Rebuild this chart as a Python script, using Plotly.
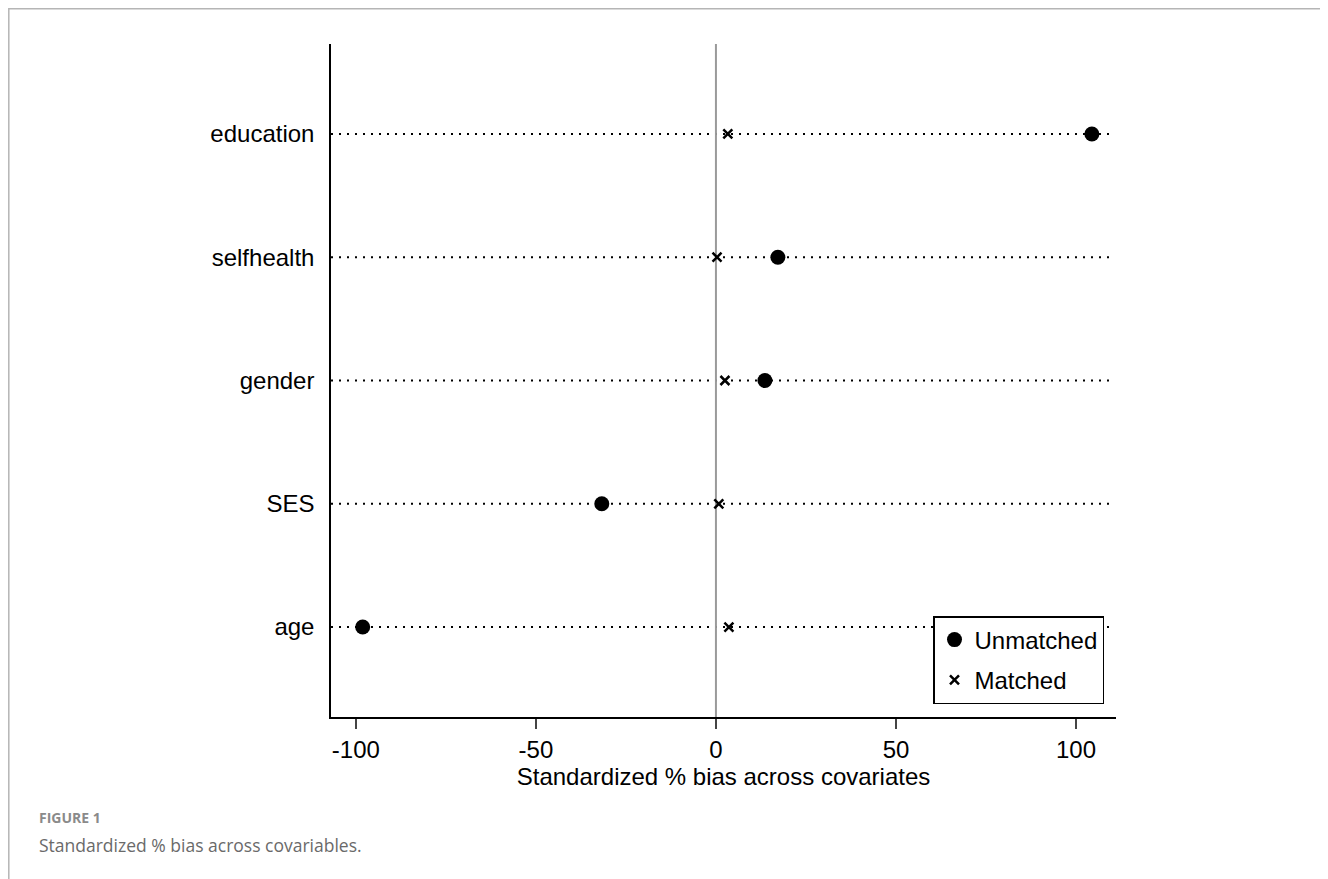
import plotly.graph_objects as go

categories = ["age", "SES", "gender", "selfhealth", "education"]
unmatched = [-98.1, -31.7, 13.6, 17.2, 104.4]
matched = [3.6, 0.8, 2.5, 0.3, 3.3]
x_ticks = [-100, -50, 0, 50, 100]

# page has an 8px body margin: size the figure to fit the window
OFF = 8
W, H = 1328 - OFF, 879 - OFF
L, R, T, B = 331 - OFF, 212, 44 - OFF, 162
pw, ph = W - L - R, H - T - B

def px(x):
    return (x - OFF - L) / pw

def py(y):
    return (H - B - (y - OFF)) / ph

fig = go.Figure()

fig.add_trace(go.Scatter(
    x=unmatched, y=categories, mode="markers", name="Unmatched", legendgroup="u",
    marker=dict(symbol="circle", size=15, color="black"),
))
fig.add_trace(go.Scatter(
    x=matched, y=categories, mode="markers", name="Matched", legendgroup="m",
    marker=dict(symbol="x-thin", size=9, color="black",
                line=dict(width=2.5, color="black")),
))

shapes = []
for c in categories:
    shapes.append(dict(type="line", xref="paper", yref="y", x0=0, x1=px(1111),
                       y0=c, y1=c, layer="below",
                       line=dict(color="black", width=2.2, dash="2px,6px")))
shapes.append(dict(type="line", xref="x", yref="paper", x0=0, x1=0, y0=0, y1=1,
                   layer="below", line=dict(color="#9a9a9a", width=2)))
shapes.append(dict(type="rect", xref="paper", yref="paper",
                   x0=(0.8 - L) / pw, x1=px(1326.5), y0=(H - B - 0.8) / ph, y1=py(900),
                   line=dict(color="#b5b5b5", width=1.5), layer="below"))
fig.update_layout(shapes=shapes)

fig.update_xaxes(range=[-106.9, 111.1], tickvals=x_ticks,
                 ticktext=[str(v) for v in x_ticks],
                 showline=True, linecolor="black", linewidth=1.5,
                 ticks="outside", ticklen=10, tickwidth=1.5, tickcolor="#444",
                 showgrid=False, zeroline=False,
                 tickfont=dict(size=24, family="Liberation Sans, Arial", color="black"),
                 title=dict(text="Standardized % bias across covariates", standoff=4,
                            font=dict(size=24, family="Liberation Sans, Arial", color="black")))
fig.update_yaxes(type="category", categoryorder="array", categoryarray=categories,
                 range=[-0.73, 4.73], showline=True, linecolor="black", linewidth=1.5,
                 ticks="", showgrid=False, zeroline=False, ticklabelstandoff=10,
                 tickfont=dict(size=24, family="Liberation Sans, Arial", color="black"))

fig.add_annotation(text="<b>FIGURE 1</b>", xref="paper", yref="paper",
                   x=px(37), y=py(818), xanchor="left", yanchor="middle", showarrow=False,
                   font=dict(size=14, family="Open Sans, Lato", color="#8a8a8a"))
fig.add_annotation(text="Standardized % bias across covariables.", xref="paper", yref="paper",
                   x=px(37), y=py(845), xanchor="left", yanchor="middle", showarrow=False,
                   font=dict(size=17.5, family="Open Sans, Lato", color="#6a6a6a"))

fig.update_layout(
    width=W, height=H, margin=dict(l=L, r=R, t=T, b=B),
    plot_bgcolor="white", paper_bgcolor="white",
    legend=dict(x=px(933), y=py(616), xanchor="left", yanchor="top",
                bordercolor="black", borderwidth=1.5, bgcolor="white",
                font=dict(size=24, family="Liberation Sans, Arial", color="black"),
                itemwidth=30, tracegroupgap=6),
)

fig.write_html("out.html")
